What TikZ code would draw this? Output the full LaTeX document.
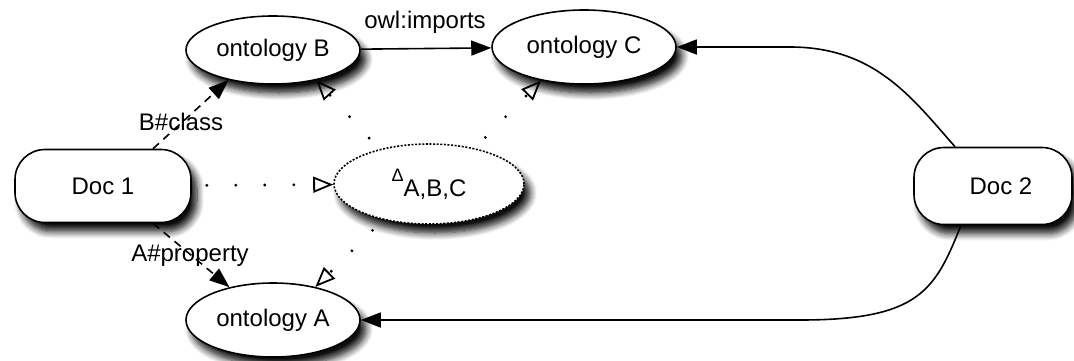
\documentclass[tikz,border=0pt]{standalone}
\usepackage{fontspec}
\setmainfont{Liberation Sans}
\usetikzlibrary{arrows.meta,shapes.geometric,shadows.blur,calc}
\begin{document}
\begin{tikzpicture}[x=0.5pt,y=-0.5pt,
  font=\fontsize{12}{14}\selectfont,
  sh/.style={blur shadow={shadow xshift=3pt,shadow yshift=-4.5pt,shadow blur radius=3.5pt,shadow blur steps=8,shadow opacity=95}},
  onto/.style={ellipse,draw,line width=0.8pt,fill=white,sh,inner sep=0pt},
  docbox/.style={rectangle,rounded corners=15pt,draw,line width=0.8pt,fill=white,sh,inner sep=0pt},
  link/.style={line width=0.8pt,-{Triangle[length=10pt,width=7.5pt]}},
  refl/.style={link,dash pattern=on 4pt off 3pt},
  subl/.style={line width=1.6pt,line cap=round,dash pattern=on 0pt off 14.5pt,dash phase=7pt,
    -{Triangle[open,length=10pt,width=8pt,line width=0.9pt,line cap=butt]}},
  lbl/.style={inner sep=1pt}]
\useasboundingbox (0,0) rectangle (1074,360);

\node[onto,minimum width=87pt,minimum height=34pt] (ontB) at (273,50) {ontology B};
\node[onto,minimum width=92pt,minimum height=37pt] (ontC) at (584,47) {ontology C};
\node[onto,minimum width=87pt,minimum height=37pt] (ontA) at (273,320) {ontology A};
\node[docbox,minimum width=88pt,minimum height=36.5pt] (doc1) at (103,186) {Doc 1};
\node[docbox,minimum width=79pt,minimum height=38.5pt] (doc2) at (993,186) {\hspace*{8pt}Doc 2};
\node[onto,dash pattern=on 1pt off 0.8pt,minimum width=95pt,minimum height=40pt] (delta) at (429,184)
  {\raisebox{0.7ex}{\fontsize{9}{9}\selectfont Δ}\raisebox{-0.5ex}{A,B,C}};

\node[lbl] (limp) at (425,22) {owl:imports};
\node[lbl] (lB) at (181,122) {B\#class};
\node[lbl] (lA) at (190,256) {A\#property};

\draw[link] (ontB) -- (ontC);
\draw[refl] ([xshift=25pt]doc1.north) -- (ontB.214);
\draw[refl] ([xshift=25pt]doc1.south) -- (ontA.143);
\draw[subl] (doc1) -- (delta);
\draw[subl] (delta.145) -- (ontB.325);
\draw[subl] (delta.38) -- (ontC.218);
\draw[subl] (delta.218) -- (ontA.38);
\draw[link] ([xshift=-19pt]doc2.north) .. controls (912,98) and (875,47) .. (790,47) -- (ontC.east);
\draw[link] ([xshift=-16pt]doc2.south) .. controls (935,290) and (920,320) .. (800,320) -- (ontA.east);
\end{tikzpicture}
\end{document}
